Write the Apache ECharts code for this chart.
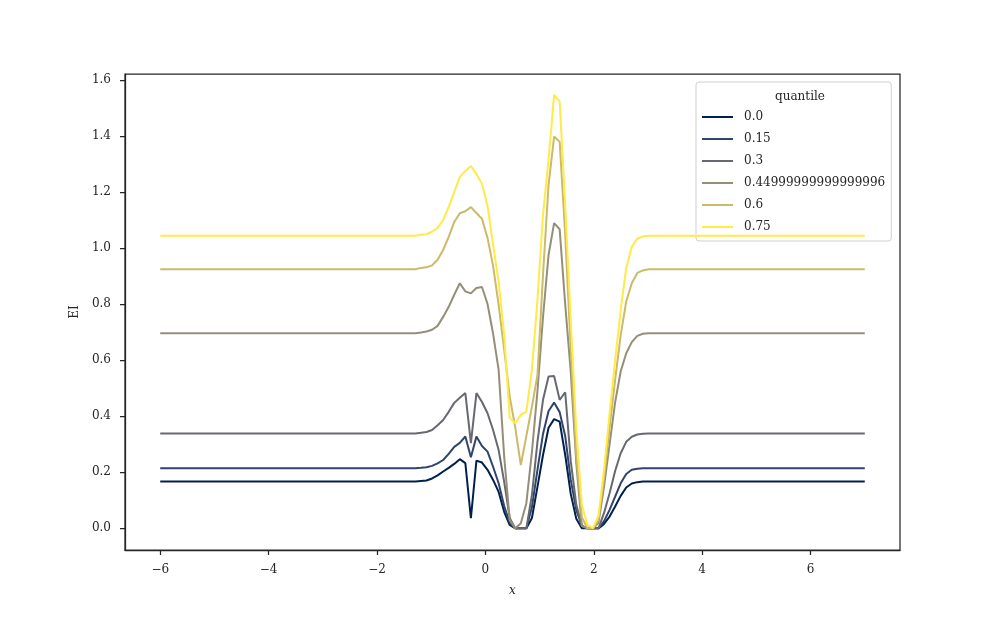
<!DOCTYPE html>
<html>
<head>
<meta charset="utf-8">
<script src="https://cdn.jsdelivr.net/npm/echarts@6/dist/echarts.min.js"></script>
<style>
html,body{margin:0;padding:0;background:#fff;}
#chart{width:1000px;height:618px;}
</style>
</head>
<body>
<div id="chart"></div>
<script>
// x grid (linspace(-6, 7, 128) points where the curves vary, plus the end points)
const xs = [-6.0,
 -1.2913,-1.1890,-1.0866,-0.9843,-0.8819,-0.7795,-0.6772,-0.5748,-0.4724,-0.3701,
 -0.2677,-0.1654,-0.0630,0.0394,0.1417,0.2441,0.3465,0.4488,0.5512,0.6535,
 0.7559,0.8583,0.9606,1.0630,1.1654,1.2677,1.3701,1.4724,1.5748,1.6772,
 1.7795,1.8819,1.9843,2.0866,2.1890,2.2913,2.3937,2.4961,2.5984,2.7008,
 2.8031,2.9055,3.0079,
 7.0];

const quantileNames = ["0.0","0.15","0.3","0.44999999999999996","0.6","0.75"];

const q000 = [0.167,
 0.167,0.169,0.171,0.178,0.189,0.203,0.216,0.230,0.247,0.233,
 0.036,0.242,0.235,0.209,0.173,0.130,0.059,0.012,0.0,0.0,
 0.0,0.037,0.148,0.262,0.359,0.390,0.381,0.262,0.123,0.034,
 0.0,0.0,0.0,0.0,0.016,0.042,0.078,0.116,0.146,0.160,
 0.165,0.167,0.167,
 0.167];

const q015 = [0.215,
 0.215,0.216,0.218,0.223,0.232,0.244,0.266,0.291,0.305,0.328,
 0.254,0.328,0.294,0.274,0.220,0.161,0.080,0.019,0.0,0.0,
 0.0,0.076,0.209,0.337,0.419,0.449,0.415,0.330,0.173,0.066,
 0.009,0.0,0.0,0.0,0.026,0.066,0.113,0.161,0.194,0.209,
 0.213,0.215,0.215,
 0.215];

const q030 = [0.339,
 0.339,0.341,0.344,0.351,0.368,0.387,0.416,0.448,0.466,0.483,
 0.304,0.483,0.451,0.411,0.351,0.280,0.166,0.037,0.0,0.0,
 0.0,0.119,0.309,0.459,0.542,0.544,0.459,0.486,0.240,0.084,
 0.009,0.0,0.0,0.0,0.055,0.125,0.205,0.268,0.309,0.327,
 0.335,0.338,0.339,
 0.339];

const q045 = [0.697,
 0.697,0.699,0.703,0.709,0.723,0.755,0.791,0.834,0.875,0.846,
 0.839,0.858,0.862,0.801,0.695,0.566,0.256,0.030,0.0,0.018,
 0.090,0.273,0.490,0.755,0.976,1.090,1.068,0.800,0.559,0.233,
 0.009,0.0,0.0,0.020,0.150,0.300,0.450,0.560,0.625,0.665,
 0.687,0.695,0.697,
 0.697];

const q060 = [0.925,
 0.925,0.930,0.932,0.939,0.959,0.994,1.041,1.094,1.125,1.132,
 1.147,1.126,1.105,1.037,0.937,0.798,0.638,0.470,0.360,0.226,
 0.330,0.434,0.548,0.905,1.226,1.399,1.380,1.050,0.640,0.260,
 0.040,0.0,0.0,0.030,0.180,0.360,0.530,0.690,0.810,0.875,
 0.912,0.921,0.925,
 0.925];

const q075 = [1.045,
 1.045,1.048,1.050,1.059,1.073,1.101,1.148,1.201,1.255,1.276,
 1.294,1.265,1.230,1.151,1.013,0.880,0.690,0.394,0.375,0.405,
 0.417,0.566,0.816,1.120,1.316,1.548,1.524,1.155,0.744,0.350,
 0.084,0.012,0.001,0.045,0.210,0.410,0.600,0.780,0.930,1.005,
 1.034,1.042,1.045,
 1.045];

const xTicks = [-6,-4,-2,0,2,4,6];
const yTicks = [0.0,0.2,0.4,0.6,0.8,1.0,1.2,1.4,1.6];

const seriesValues = [q000,q015,q030,q045,q060,q075];
const colors = ["#00204D","#31446B","#666970","#958F78","#CBBA69","#FFEA46"];

const serif = "DejaVu Serif";
const chart = echarts.init(document.getElementById('chart'), null, {renderer:'canvas'});

const series = seriesValues.map((vals, i) => ({
  name: quantileNames[i],
  type: 'line',
  data: xs.map((x, j) => [x, vals[j]]),
  showSymbol: false,
  symbol: 'none',
  smooth: false,
  lineStyle: {color: colors[i], width: 2},
  itemStyle: {color: colors[i]},
  emphasis: {disabled: true},
  animation: false,
  z: 2 + i
}));

chart.setOption({
  animation: false,
  backgroundColor: '#ffffff',
  title: {
    text: 'quantile',
    left: 795, top: 86,
    textAlign: 'center',
    textStyle: {fontFamily: serif, fontSize: 12, fontWeight: 'normal', color: '#262626'}
  },
  legend: {
    data: quantileNames,
    orient: 'vertical',
    left: 696, top: 82,
    padding: [28, 6, 7, 6],
    itemWidth: 31, itemHeight: 2,
    itemGap: 8,
    icon: 'rect',
    backgroundColor: 'rgba(255,255,255,0.8)',
    borderColor: '#d0d0d0', borderWidth: 1, borderRadius: 3,
    textStyle: {fontFamily: serif, fontSize: 12, color: '#262626', lineHeight: 14, padding: [0,0,0,6]},
    selectedMode: false
  },
  grid: {
    left: 125, right: 100, top: 74, bottom: 68,
    show: true, borderColor: '#262626', borderWidth: 1.25, backgroundColor: 'transparent'
  },
  xAxis: {
    type: 'value',
    min: -6.65, max: 7.65,
    name: 'x',
    nameLocation: 'middle', nameGap: 35,
    nameTextStyle: {fontFamily: serif, fontStyle: 'italic', fontSize: 12, color: '#262626'},
    axisLine: {show: true, onZero: false, lineStyle: {color: '#262626', width: 1.25}},
    axisTick: {show: true, inside: false, length: 5, lineStyle: {color: '#262626', width: 1.25}, customValues: xTicks},
    axisLabel: {
      customValues: xTicks, margin: 14,
      fontFamily: serif, fontSize: 12, color: '#262626',
      formatter: v => (v < 0 ? '\u2212' + Math.abs(v) : String(v))
    },
    splitLine: {show: false}
  },
  yAxis: {
    type: 'value',
    min: -0.0773, max: 1.6223,
    name: 'EI',
    nameLocation: 'middle', nameGap: 44,
    nameRotate: 90,
    nameTextStyle: {fontFamily: serif, fontSize: 12, color: '#262626'},
    axisLine: {show: true, onZero: false, lineStyle: {color: '#262626', width: 1.25}},
    axisTick: {show: true, inside: false, length: 5, lineStyle: {color: '#262626', width: 1.25}, customValues: yTicks},
    axisLabel: {
      customValues: yTicks, margin: 14,
      fontFamily: serif, fontSize: 12, color: '#262626',
      formatter: v => v.toFixed(1)
    },
    splitLine: {show: false}
  },
  series: series
});
</script>
</body>
</html>
